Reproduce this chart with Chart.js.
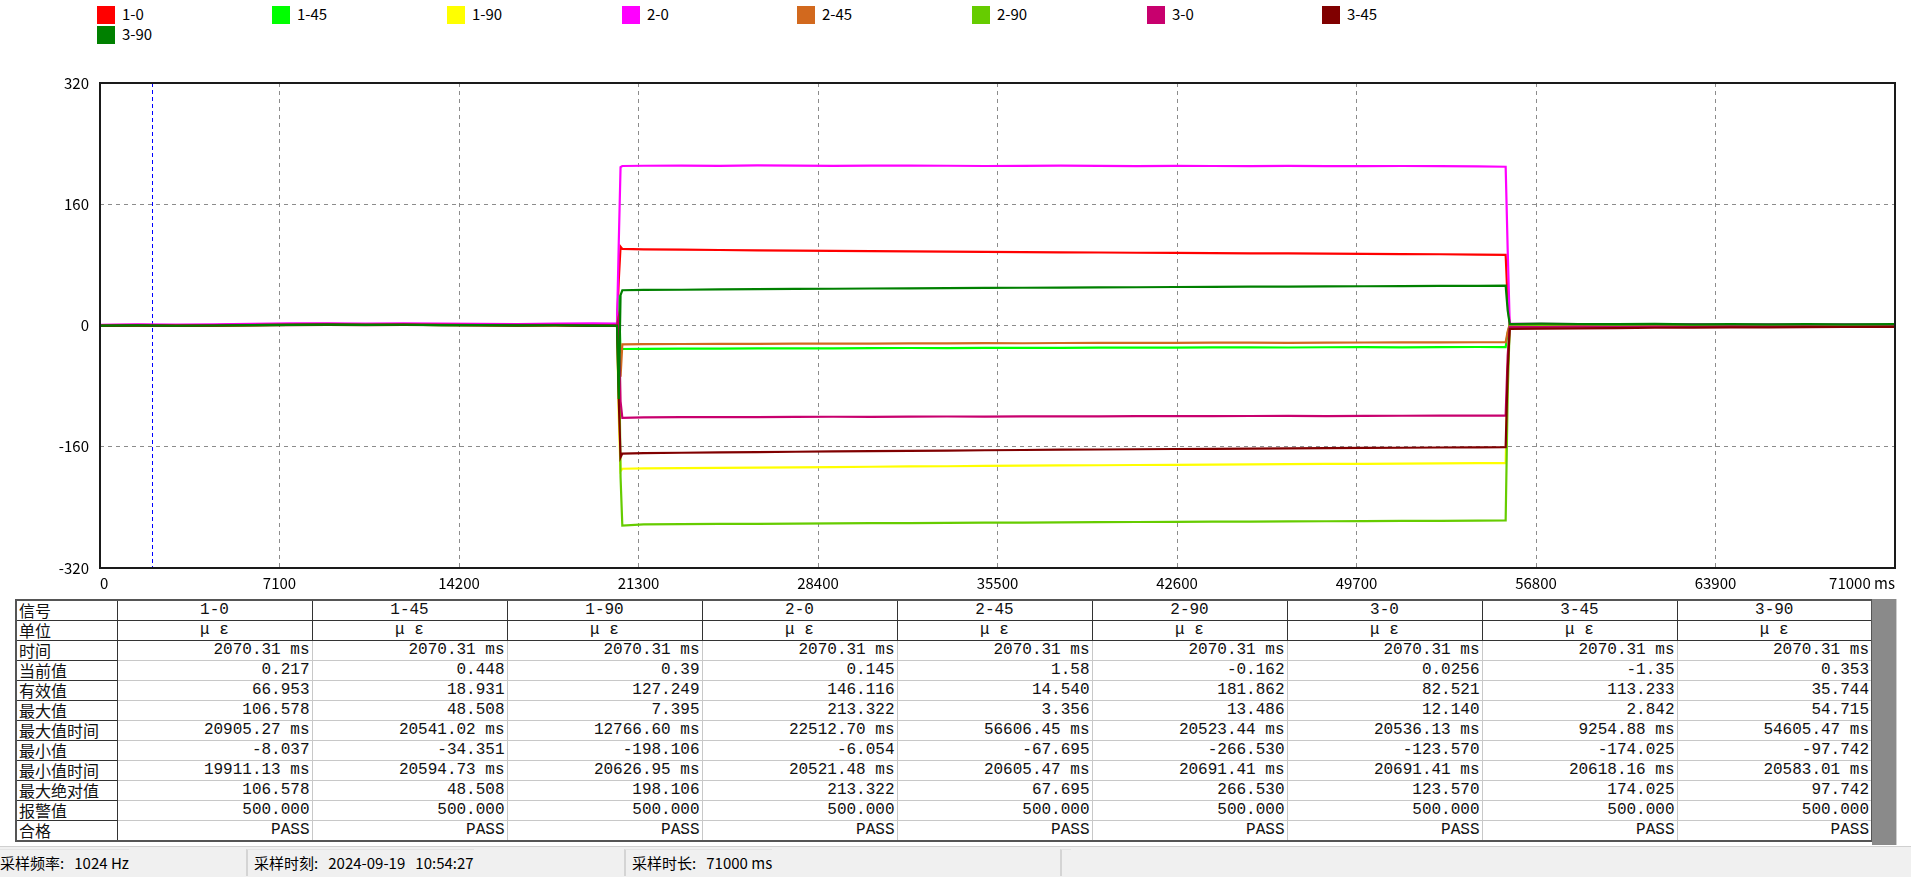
<!DOCTYPE html>
<html>
<head>
<meta charset="utf-8">
<script src="https://cdn.jsdelivr.net/npm/chart.js@4.4.1/dist/chart.umd.min.js"></script>
<style>
  html,body{margin:0;padding:0;background:#fff;width:1911px;height:877px;overflow:hidden;font-family:"Noto Sans CJK SC","DejaVu Sans",sans-serif;}
  #legend{position:absolute;left:0;top:0;width:1911px;height:50px;}
  .lg{position:absolute;font-size:15px;color:#000;line-height:18px;}
  .lg .bx{position:absolute;left:0;top:0;width:18px;height:18px;}
  .lg .tx{position:absolute;left:25px;top:-1px;white-space:nowrap;}
  #chartWrap{position:absolute;left:0;top:0;width:1911px;height:595px;}
  #tbl{position:absolute;left:15px;top:599px;border-collapse:collapse;font-size:16px;color:#111;table-layout:fixed;border:2px solid #555;font-family:"Liberation Mono","Noto Sans CJK SC",monospace;}
  #tbl td{height:19px;line-height:19px;padding:0 3px 0 3px;border:1px solid #c8c8c8;white-space:nowrap;overflow:hidden;}
  #tbl td.h{border:1px solid #333;text-align:left;font-family:"Noto Sans CJK SC",sans-serif;font-size:16px;padding-left:2px;}
  #tbl tr.hr td{border:1px solid #333;text-align:center;}
  #tbl td.v{text-align:right;padding-right:2px;}
  #scroll{position:absolute;left:1872px;top:599px;width:24px;height:246px;background:#8a8a8a;border-right:1px solid #ccc;}
  #status{position:absolute;left:0;top:846px;width:1911px;height:31px;background:#f0f0f0;border-top:1px solid #d0d0d0;font-size:15px;}
  .sec{position:absolute;top:2px;height:26px;line-height:26px;border-left:2px solid #d4d4d4;border-top:1px solid #e4e4e4;padding-left:6px;white-space:nowrap;}
</style>
</head>
<body>
<div id="legend"></div>
<div id="chartWrap"><canvas id="c" width="1911" height="595"></canvas></div>
<table id="tbl"></table>
<div id="scroll"></div>
<div id="status"></div>
<script>
// ---------- DATA ----------
const seriesNames = ['1-0','1-45','1-90','2-0','2-45','2-90','3-0','3-45','3-90'];
const seriesColors = ['#ff0000','#00ff00','#ffff00','#ff00ff','#d2691e','#66cc00','#c8006e','#800000','#008000'];
const times = [0,1500,3000,4500,6000,7500,9000,10500,12000,13500,15000,16500,18000,19500,
  20450,20520,20590,20660,
  21500,23000,24500,26000,27500,29000,30500,32000,33500,35000,36500,38000,39500,41000,42500,44000,45500,47000,48500,50000,51500,53000,54500,
  55600,55680,55760,
  57000,58500,60000,61500,63000,64500,66000,67500,69000,71000];
const s1_0 = [0.5,0.8,0.3,0.6,1.2,1.8,2.1,1.6,1.9,1.4,1.2,0.9,1.1,0.7,
  0.4,60,104,101,
  100.5,100,99.6,99.2,98.9,98.4,98.1,97.8,97.4,97.2,96.8,96.5,96.3,96.0,95.8,95.5,95.3,95.1,94.8,94.5,94.3,94.0,93.6,
  93.3,30,1.5,
  1.2,0.8,0.5,0.3,-0.2,0.4,0.1,-0.3,0.2,0.2];
const s1_45 = [0.2,0.5,0.1,0.4,0.9,1.3,1.5,1.2,1.4,1.0,0.8,0.6,0.7,0.4,
  0.2,40,-34,-31,
  -30.8,-30.5,-30.6,-30.3,-30.1,-30.2,-29.9,-29.7,-29.8,-29.5,-29.4,-29.6,-29.3,-29.1,-29.2,-28.9,-28.8,-29.0,-28.7,-28.6,-28.8,-28.5,-28.4,
  -28.6,-10,0.8,
  0.6,0.4,0.2,0.5,0.1,0.3,0.0,0.4,0.2,0.4];
const s1_90 = [0.1,0.4,0.0,0.3,0.8,1.1,1.4,1.0,1.3,0.9,0.7,0.5,0.6,0.3,
  0.1,-120,-192,-189,
  -188.6,-188.2,-187.9,-187.5,-187.1,-186.8,-186.4,-186.0,-185.7,-185.3,-185.0,-184.7,-184.4,-184.1,-183.8,-183.5,-183.3,-183.0,-182.7,-182.5,-182.2,-182.0,-181.7,
  -181.5,-60,0.2,
  0.1,-0.3,0.2,-0.1,0.3,0.0,-0.2,0.1,0.3,0.4];
const s2_0 = [1.0,1.4,1.1,1.6,2.2,2.8,3.0,2.6,2.9,2.5,2.3,2.0,2.4,2.7,
  2.5,110,209,210.5,
  210.8,211.0,210.7,211.2,211.0,210.6,210.9,211.1,210.8,210.5,210.7,210.9,210.6,210.4,210.7,210.5,210.3,210.6,210.4,210.2,210.5,210.3,210.1,
  209.5,100,2.6,
  2.2,1.8,1.9,1.5,1.7,1.3,1.6,1.2,1.4,1.1];
const s2_45 = [0.0,0.3,-0.1,0.2,0.6,1.0,1.2,0.9,1.1,0.7,0.5,0.3,0.4,0.1,
  -0.2,-50,-67.7,-25,
  -24.6,-24.4,-24.2,-24.3,-24.0,-23.8,-23.9,-23.6,-23.5,-23.3,-23.4,-23.1,-23.0,-22.9,-23.0,-22.7,-22.6,-22.8,-22.5,-22.4,-22.3,-22.2,-22.1,
  -22.0,-8,1.5,
  1.0,0.6,0.8,0.2,0.5,0.0,0.3,-0.2,0.1,0.0];
const s2_90 = [0.0,0.3,-0.2,0.2,0.6,0.9,1.1,0.8,1.0,0.6,0.4,0.2,0.3,0.0,
  -0.3,13,-200,-264,
  -262.5,-262.2,-261.9,-261.7,-261.4,-261.2,-260.9,-260.7,-260.4,-260.2,-260.0,-259.7,-259.5,-259.3,-259.1,-258.9,-258.7,-258.5,-258.3,-258.1,-257.9,-257.7,-257.5,
  -257.3,-90,-0.5,
  -0.8,-1.0,-0.6,-1.2,-0.9,-0.5,-0.8,-0.4,-0.7,-0.6];
const s3_0 = [0.3,0.6,0.2,0.5,1.0,1.5,1.7,1.3,1.6,1.2,1.0,0.8,0.9,0.5,
  0.2,12,-100,-122,
  -121.2,-121.0,-120.8,-120.9,-120.6,-120.4,-120.5,-120.3,-120.1,-120.2,-120.0,-119.8,-119.9,-119.7,-119.5,-119.6,-119.4,-119.3,-119.5,-119.2,-119.1,-119.0,-118.9,
  -118.8,-40,-1.8,
  -2.0,-1.6,-1.9,-1.4,-1.7,-1.2,-1.5,-1.1,-1.3,-1.0];
const s3_45 = [-0.5,-0.2,-0.6,-0.3,0.2,0.6,0.8,0.5,0.7,0.3,0.1,-0.1,0.0,-0.4,
  -0.6,-100,-174,-169,
  -168.3,-167.9,-167.5,-167.0,-166.6,-166.2,-165.8,-165.4,-165.0,-164.6,-164.3,-163.9,-163.6,-163.3,-163.0,-162.7,-162.4,-162.1,-161.8,-161.5,-161.3,-161.0,-160.8,
  -160.6,-60,-4.5,
  -4.2,-3.8,-3.5,-3.0,-2.7,-2.4,-2.6,-2.2,-2.0,-1.8];
const s3_90 = [-0.2,0.1,-0.3,0.0,0.5,0.9,1.1,0.8,1.0,0.6,0.4,0.2,0.3,-0.1,
  -0.3,-97,40,46.5,
  46.9,47.2,47.6,47.9,48.2,48.5,48.8,49.1,49.3,49.6,49.8,50.1,50.3,50.5,50.8,51.0,51.2,51.4,51.6,51.8,52.0,52.2,52.4,
  52.5,20,2.0,
  2.4,2.0,1.8,2.2,1.6,1.9,1.4,1.7,1.5,1.8];
const seriesValues = [s1_0,s1_45,s1_90,s2_0,s2_45,s2_90,s3_0,s3_45,s3_90];

const yTicks = [-320,-160,0,160,320];
const xTicks = [0,7100,14200,21300,28400,35500,42600,49700,56800,63900,71000];
const xUnit = 'ms';
const cursorTime = 2070.31;

// table
const rowLabels = ['信号','单位','时间','当前值','有效值','最大值','最大值时间','最小值','最小值时间','最大绝对值','报警值','合格'];
const units = ['μ ε','μ ε','μ ε','μ ε','μ ε','μ ε','μ ε','μ ε','μ ε'];
const timeVals = ['2070.31 ms','2070.31 ms','2070.31 ms','2070.31 ms','2070.31 ms','2070.31 ms','2070.31 ms','2070.31 ms','2070.31 ms'];
const currentVals = ['0.217','0.448','0.39','0.145','1.58','-0.162','0.0256','-1.35','0.353'];
const rmsVals = ['66.953','18.931','127.249','146.116','14.540','181.862','82.521','113.233','35.744'];
const maxVals = ['106.578','48.508','7.395','213.322','3.356','13.486','12.140','2.842','54.715'];
const maxTimes = ['20905.27 ms','20541.02 ms','12766.60 ms','22512.70 ms','56606.45 ms','20523.44 ms','20536.13 ms','9254.88 ms','54605.47 ms'];
const minVals = ['-8.037','-34.351','-198.106','-6.054','-67.695','-266.530','-123.570','-174.025','-97.742'];
const minTimes = ['19911.13 ms','20594.73 ms','20626.95 ms','20521.48 ms','20605.47 ms','20691.41 ms','20691.41 ms','20618.16 ms','20583.01 ms'];
const absMaxVals = ['106.578','48.508','198.106','213.322','67.695','266.530','123.570','174.025','97.742'];
const alarmVals = ['500.000','500.000','500.000','500.000','500.000','500.000','500.000','500.000','500.000'];
const passVals = ['PASS','PASS','PASS','PASS','PASS','PASS','PASS','PASS','PASS'];

const statusItems = [['采样频率:','1024 Hz'],['采样时刻:','2024-09-19&nbsp;&nbsp;&nbsp;10:54:27'],['采样时长:','71000 ms']];

// ---------- LEGEND ----------
const lg = document.getElementById('legend');
seriesNames.forEach((n,i)=>{
  const d = document.createElement('div');
  d.className='lg';
  d.style.left = (97 + (i%8)*175) + 'px';
  d.style.top = (6 + Math.floor(i/8)*20) + 'px';
  d.innerHTML = '<div class="bx" style="background:'+seriesColors[i]+'"></div><div class="tx">'+n+'</div>';
  lg.appendChild(d);
});

// ---------- CHART ----------
const datasets = seriesNames.map((n,i)=>({
  label:n,
  data: times.map((t,k)=>({x:t,y:seriesValues[i][k]})),
  borderColor: seriesColors[i],
  backgroundColor: seriesColors[i],
  borderWidth: 2.2,
  pointRadius: 0,
  tension: 0,
  fill:false,
  order: seriesNames.length - i
}));

const framePlugin = {
  id:'frame',
  beforeDatasetsDraw(chart){
    const {ctx, chartArea:a, scales:{x}} = chart;
    const px = x.getPixelForValue(cursorTime);
    ctx.save();
    ctx.strokeStyle = '#0000ff';
    ctx.lineWidth = 1;
    ctx.setLineDash([4,3]);
    ctx.beginPath(); ctx.moveTo(Math.round(px)+0.5,a.top); ctx.lineTo(Math.round(px)+0.5,a.bottom); ctx.stroke();
    ctx.restore();
  },
  afterDraw(chart){
    const {ctx, chartArea:a} = chart;
    ctx.save();
    ctx.strokeStyle = '#1a1a1a';
    ctx.lineWidth = 2;
    ctx.strokeRect(a.left, a.top, a.right-a.left, a.bottom-a.top);
    ctx.restore();
  }
};

new Chart(document.getElementById('c'), {
  type:'line',
  data:{datasets},
  options:{
    responsive:false,
    animation:false,
    layout:{padding:{left:0,right:16,top:83,bottom:0}},
    plugins:{legend:{display:false},tooltip:{enabled:false}},
    scales:{
      x:{
        type:'linear', min:xTicks[0], max:xTicks[xTicks.length-1],
        afterBuildTicks(s){ s.ticks = xTicks.map(v=>({value:v})); },
        afterFit(s){ s.height = 27; },
        grid:{color:'#8c8c8c', lineWidth:1, drawTicks:false},
        border:{display:false, dash:[4,4]},
        ticks:{
          padding:6, align:'inner', maxRotation:0, autoSkip:false, color:'#000',
          font:{family:'"Noto Sans CJK SC", sans-serif', size:15},
          callback:(v,i)=> i===xTicks.length-1 ? v+' '+xUnit : String(v)
        }
      },
      y:{
        type:'linear', min:yTicks[0], max:yTicks[yTicks.length-1],
        afterBuildTicks(s){ s.ticks = yTicks.map(v=>({value:v})); },
        afterFit(s){ s.width = 100; },
        grid:{color:'#8c8c8c', lineWidth:1, drawTicks:false},
        border:{display:false, dash:[4,4]},
        ticks:{padding:11, color:'#000', font:{family:'"Noto Sans CJK SC", sans-serif', size:15}}
      }
    }
  },
  plugins:[framePlugin]
});

// ---------- TABLE ----------
const tbl = document.getElementById('tbl');
const colWidths = [101].concat(seriesNames.map(()=>195));
const cg = document.createElement('colgroup');
colWidths.forEach(w=>{const c=document.createElement('col'); c.style.width=w+'px'; cg.appendChild(c);});
tbl.appendChild(cg);
const rows = [seriesNames, units, timeVals, currentVals, rmsVals, maxVals, maxTimes, minVals, minTimes, absMaxVals, alarmVals, passVals];
rows.forEach((r,ri)=>{
  const tr = document.createElement('tr');
  if(ri<2) tr.className='hr';
  const th = document.createElement('td'); th.className='h'; th.textContent=rowLabels[ri]; th.style.textAlign='left'; tr.appendChild(th);
  r.forEach(v=>{const td=document.createElement('td'); td.textContent=v; if(ri>=2) td.className='v'; tr.appendChild(td);});
  tbl.appendChild(tr);
});

// ---------- STATUS ----------
const st = document.getElementById('status');
const secLeft = [0,246,624,1060];
statusItems.forEach((it,i)=>{
  const d=document.createElement('div'); d.className='sec';
  d.style.left = secLeft[i]+'px';
  if(i===0){d.style.borderLeft='none'; d.style.paddingLeft='0';}
  d.innerHTML = it[0]+'&nbsp;&nbsp;&nbsp;'+it[1];
  st.appendChild(d);
});
const d4=document.createElement('div'); d4.className='sec'; d4.style.left='1060px'; d4.innerHTML='&nbsp;'; st.appendChild(d4);
</script>
</body>
</html>
